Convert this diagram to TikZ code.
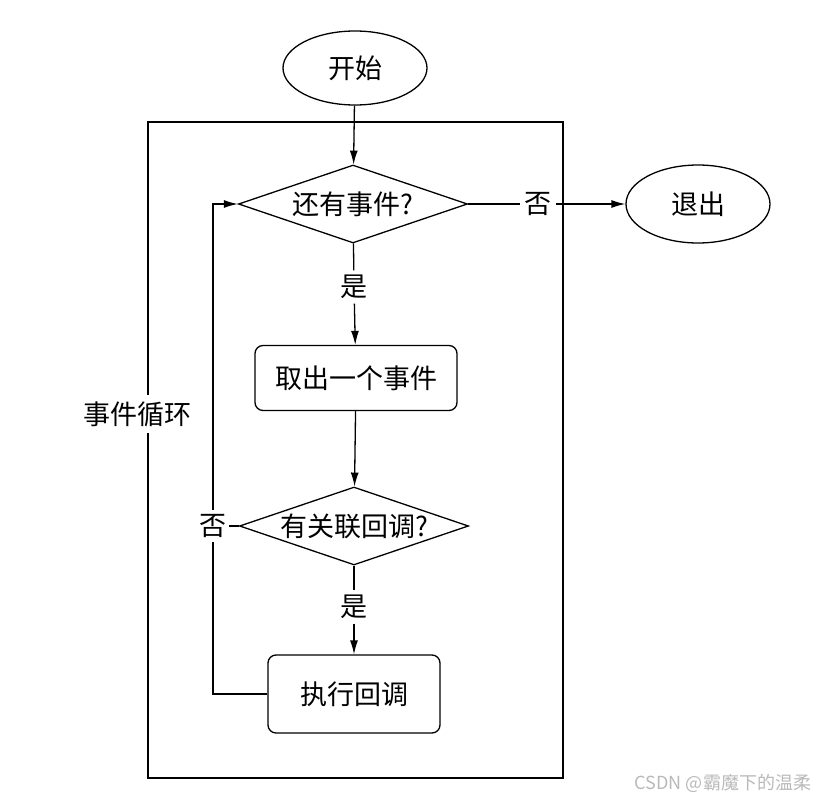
\documentclass[tikz,border=0pt]{standalone}
\usepackage{fontspec}
\newfontfamily\cjk{Noto Sans CJK SC}
\usetikzlibrary{shapes.geometric,arrows.meta}

\begin{document}
\begin{tikzpicture}[x=1pt,y=-1pt,line width=1.3pt,
    >={Latex[length=14pt,width=8pt]},
    every node/.style={font=\cjk\fontsize{27pt}{32pt}\selectfont},
    term/.style={ellipse,draw,minimum width=144pt,minimum height=74pt},
    test/.style={diamond,draw,aspect=2.9,inner sep=-12pt,minimum width=229pt,minimum height=78pt},
    process/.style={draw,rounded corners=8pt},
    answer/.style={inner sep=4pt}]
            \useasboundingbox (0,0) rectangle (822,803);
            % loop frame
            \draw (148,122) rectangle (563,778);
            \node[fill=white,inner xsep=2pt,inner ysep=6pt] (loop) at (137,414) {事件循环};
            % nodes
            \node[term] (start) at (355,68) {开始};
            \node[test] (more) at (353,204) {还有事件?};
            \node[answer] (no1) at (538,204) {否};
            \node[term,minimum height=78pt] (exit) at (698,204) {退出};
            \node[answer] (yes1) at (354,287) {是};
            \node[process,minimum width=202pt,minimum height=65pt] (fetch) at (356,378) {取出一个事件};
            \node[test] (cb) at (354,526) {有关联回调?};
            \node[answer,inner xsep=2pt] (no2) at (213,526) {否};
            \node[answer] (yes2) at (354,607) {是};
            \node[process,minimum width=172pt,minimum height=78pt] (run) at (354,694) {执行回调};
            % connectors
            \draw[->] (start) -- (more);
            \draw (more) -- (no1);
            \draw[->] (no1) -- (exit);
            \draw (more) -- (yes1);
            \draw[->] (yes1) -- (fetch);
            \draw[->] (fetch) -- (cb);
            \draw (cb) -- (no2);
            \draw[->] (no2.north) |- (more.west);
            \draw (run.west) -| (no2.south);
            \draw (cb) -- (yes2);
            \draw[->] (yes2) -- (run);
            % watermark
            \node[text=gray!55,font=\cjk\fontsize{18pt}{20pt}\selectfont,anchor=east] (mark) at (815,783) {CSDN @霸魔下的温柔};
        \end{tikzpicture}
\end{document}
